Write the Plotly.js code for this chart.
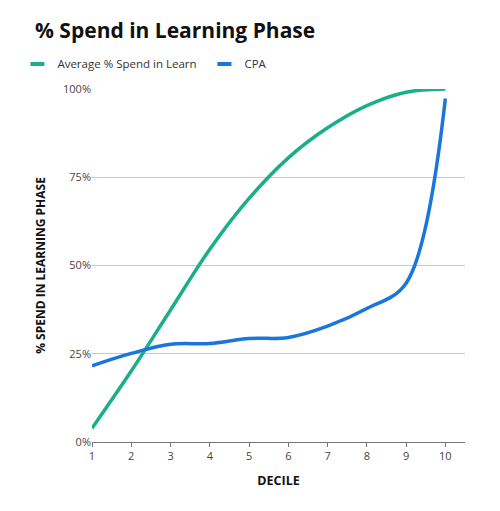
<!DOCTYPE html>
<html>
<head>
<meta charset="utf-8">
<script src="https://cdn.plot.ly/plotly-3.0.1.min.js"></script>
<style>
  html, body { margin: 0; padding: 0; background: #fff; }
  #chart { width: 500px; height: 511px; }
</style>
</head>
<body>
<div id="chart"></div>
<script>
// values
const deciles = [1, 2, 3, 4, 5, 6, 7, 8, 9, 10]
const learnSpend = [3.9, 20.1, 37.4, 54.6, 69, 80.5, 89, 95.3, 99.1, 100]
const cpa = [21.6, 25.1, 27.7, 27.9, 29.3, 29.6, 32.8, 37.8, 45, 97.3]
const yTicks = [0, 25, 50, 75, 100]
const yTickText = ["0%", "25%", "50%", "75%", "100%"]

const green = "#1aaf86"
const blue = "#1a76dc"
const font = "Open Sans, sans-serif"

const data = [
    {
        type: "scatter", mode: "lines", name: "Average % Spend in Learn",
        x: deciles, y: learnSpend, legendgroup: "learn", showlegend: false,
        line: { color: green, width: 3.5, shape: "spline", smoothing: 1 }
    },
    {
        type: "scatter", mode: "lines", name: "CPA",
        x: deciles, y: cpa, legendgroup: "cpa", showlegend: false,
        line: { color: blue, width: 3.5, shape: "spline", smoothing: 1 }
    },
    // legend entries only: short thick dash like the original key
    {
        type: "scatter", mode: "markers", name: "Average % Spend in Learn",
        x: [null], y: [null], legendgroup: "learn",
        marker: { symbol: "line-ew", size: 10, line: { color: green, width: 4 } }
    },
    {
        type: "scatter", mode: "markers", name: "CPA",
        x: [null], y: [null], legendgroup: "cpa",
        marker: { symbol: "line-ew", size: 10, line: { color: blue, width: 4 } }
    }
]

const layout = {
    width: 500,
    height: 511,
    margin: { l: 92, r: 35, t: 89, b: 69 },
    paper_bgcolor: "#ffffff",
    plot_bgcolor: "#ffffff",
    font: { family: font, color: "#444" },
    title: {
        text: "<b>% Spend in Learning Phase</b>",
        font: { size: 21, color: "#111", family: font },
        x: 0.07, xref: "container", xanchor: "left",
        y: 0.94, yref: "container", yanchor: "middle"
    },
    showlegend: true,
    legend: {
        orientation: "h",
        x: -0.2, xanchor: "left",
        y: 1.071, yanchor: "middle",
        font: { size: 11.5, color: "#333" },
        entrywidth: 142,
        bgcolor: "rgba(0,0,0,0)"
    },
    xaxis: {
        range: [1, 10.5],
        tickvals: deciles,
        ticks: "outside", ticklen: 4, tickcolor: "#777",
        showline: true, linecolor: "#777", linewidth: 1,
        showgrid: false, zeroline: false,
        tickfont: { size: 11, color: "#444" },
        title: { text: "<b>DECILE</b>", font: { size: 12.5, color: "#111" }, standoff: 14 }
    },
    yaxis: {
        range: [0, 100],
        tickvals: yTicks, ticktext: yTickText,
        ticks: "", showline: false, zeroline: false,
        showgrid: true, gridcolor: "#c9c9c9", gridwidth: 1,
        tickfont: { size: 11, color: "#444" },
        title: { text: "<b>% SPEND IN LEARNING PHASE</b>", font: { size: 12, color: "#111" }, standoff: 14 }
    }
}

Plotly.newPlot("chart", data, layout, { displayModeBar: false, staticPlot: true })
</script>
</body>
</html>
